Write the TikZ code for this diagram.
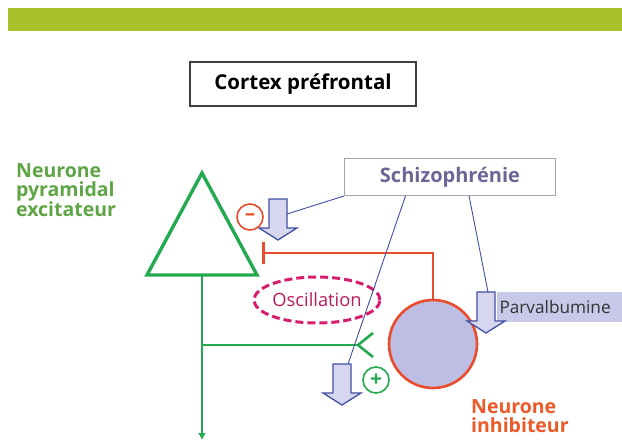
\documentclass[tikz,border=0pt]{standalone}
\usepackage{fontspec}
\setmainfont{Open Sans}
\usetikzlibrary{arrows.meta,positioning,calc,shapes.geometric}

\definecolor{barre}{RGB}{170,192,40}
\definecolor{vertxt}{RGB}{95,165,70}
\definecolor{vert}{RGB}{35,170,80}
\definecolor{rouge}{RGB}{235,75,45}
\definecolor{magenta}{RGB}{215,30,110}
\definecolor{lavande}{RGB}{190,190,228}
\definecolor{pale}{RGB}{215,215,240}
\definecolor{bleu}{RGB}{65,80,160}
\definecolor{ardoise}{RGB}{110,100,150}
\definecolor{orangetxt}{RGB}{235,90,40}

\tikzset{
    baisse/.pic={
        \draw[bleu,fill=pale,line width=1.3pt,line join=miter]
            (-9,0) -- (9,0) -- (9,29) -- (19,29) -- (0,41) -- (-19,29) -- (-9,29) -- cycle;
    }
}

\begin{document}
\begin{tikzpicture}[x=1pt,y=-1pt,
    titre/.style={draw=black!75,line width=1.2pt,minimum width=226pt,minimum height=44pt,font=\fontsize{20.5}{22}\selectfont\bfseries},
    maladie/.style={draw=black!35,line width=1pt,minimum width=211pt,minimum height=37pt,text=ardoise,font=\fontsize{20}{22}\selectfont\bfseries},
    lien/.style={bleu,line width=0.9pt},
    signe/.style={circle,line width=1.6pt,minimum size=26pt,inner sep=0pt,font=\fontsize{21}{21}\selectfont\bfseries},
    legende/.style={align=left,font=\fontsize{19.5}{19.5}\selectfont\bfseries}]

\useasboundingbox (0,0) rectangle (622,442);

% bandeau
\fill[barre] (8,8) rectangle (622,31);

\node[titre] (cortex) at (303,84) {Cortex préfrontal};
\node[maladie] (schizo) at (450,177) {Schizophrénie};

% neurone pyramidal
\node[legende,text=vertxt,anchor=north west,inner sep=0pt] (pyrlab) at (16,163) {Neurone\\pyramidal\\excitateur};
\coordinate (apex) at (202,173);
\coordinate (soma) at (202,275);
\draw[vert,line width=3.4pt,line join=miter] (apex) -- (147,275) -- (257,275) -- cycle;
\coordinate (axonbas) at (202,440);
\draw[vert,line width=2.6pt,-{Latex[length=7pt,width=8pt]}] (soma) -- (axonbas);
\coordinate (branche) at (202,345);
\coordinate (synapse) at (358,345);
\draw[vert,line width=2.6pt] (branche) -- (synapse);
\draw[vert,line width=2.6pt] (373,333) -- (synapse) -- (373,357);

% oscillation
\node[draw=magenta,dash pattern=on 8pt off 4pt,line width=3pt,ellipse,minimum width=102pt,minimum height=46pt,inner sep=0pt,text=magenta!85!black,font=\fontsize{18.3}{18}\selectfont] (osc) at (317,300) {Oscillation};

% neurone inhibiteur
\node[circle,draw=rouge,fill=lavande,line width=2.6pt,minimum size=88pt] (inhib) at (433,344) {};
\coordinate (coude) at (433,253);
\coordinate (frein) at (262,253);
\draw[rouge,line width=2.6pt,-{Bar[width=22pt,line width=2.6pt]}] (inhib.north) -- (coude) -- (frein);
\node[legende,text=orangetxt,anchor=north west,inner sep=0pt] (inhlab) at (471,399) {Neurone\\inhibiteur};

% parvalbumine
\fill[lavande!85] (497,292) rectangle (622,322);
\node[anchor=west,text=black!80,font=\fontsize{17.2}{17}\selectfont] (parva) at (496,307) {Parvalbumine};

% fleches de baisse
\pic at (278,199) {baisse};
\pic at (342,364) {baisse};
\pic at (486,292) {baisse};
\coordinate (moins) at (287,214);
\coordinate (plus) at (348,364);
\coordinate (pv) at (488,292);
\draw[lien] (schizo.south west) -- (moins);
\draw[lien] ($(schizo.south west)!0.29!(schizo.south east)$) -- (plus);
\draw[lien] ($(schizo.south west)!0.59!(schizo.south east)$) -- (pv);

\node[signe,draw=rouge,text=orangetxt] (m) at (250,217) {–};
\node[signe,draw=vert,text=vert] (p) at (376,380) {+};

\end{tikzpicture}
\end{document}
